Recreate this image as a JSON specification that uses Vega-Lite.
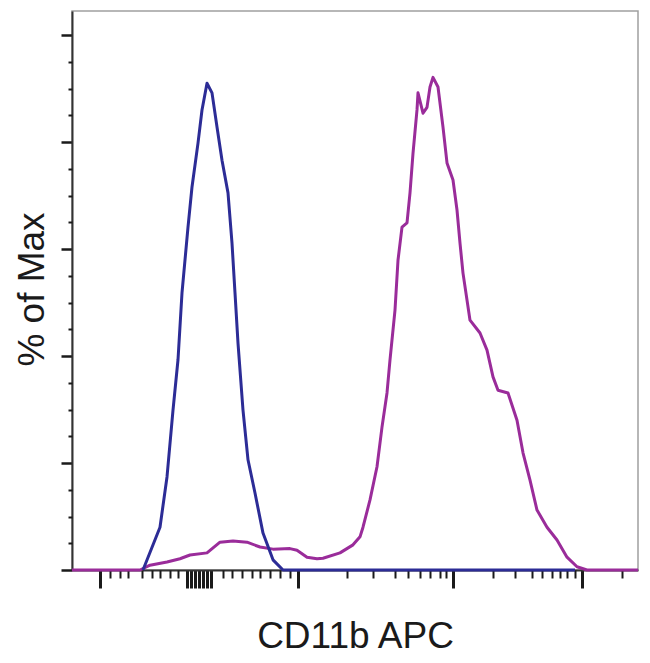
{
  "$schema": "https://vega.github.io/schema/vega-lite/v6.json",
  "width": 566,
  "height": 559,
  "autosize": "none",
  "padding": {"left": 72, "top": 11, "right": 12, "bottom": 93},
  "config": {
    "view": {"stroke": "#a0a0a0", "strokeWidth": 1.5},
    "axis": {
      "labels": false,
      "grid": false,
      "domainColor": "#333333",
      "tickColor": "#1a1a1a",
      "titleFont": "Liberation Sans",
      "titleFontSize": 37,
      "titleFontWeight": "normal",
      "titleColor": "#1a1a1a"
    }
  },
  "datasets": {
    "cd11b": [
      {"ch": 0, "pct": 0}, {"ch": 68, "pct": 0}, {"ch": 78, "pct": 0.9}, {"ch": 95, "pct": 1.5},
      {"ch": 108, "pct": 2.1}, {"ch": 118, "pct": 2.8}, {"ch": 135, "pct": 3.2}, {"ch": 148, "pct": 5.2},
      {"ch": 161, "pct": 5.4}, {"ch": 175, "pct": 5.2}, {"ch": 188, "pct": 4.3}, {"ch": 201, "pct": 3.9},
      {"ch": 218, "pct": 4.0}, {"ch": 225, "pct": 3.7}, {"ch": 235, "pct": 2.4}, {"ch": 245, "pct": 2.1},
      {"ch": 251, "pct": 2.2}, {"ch": 268, "pct": 3.2}, {"ch": 281, "pct": 4.7}, {"ch": 288, "pct": 6.2},
      {"ch": 291, "pct": 8.0}, {"ch": 298, "pct": 13.1}, {"ch": 305, "pct": 19.3}, {"ch": 310, "pct": 26.7},
      {"ch": 315, "pct": 33.1}, {"ch": 318, "pct": 39.3}, {"ch": 323, "pct": 48.6}, {"ch": 326, "pct": 57.9},
      {"ch": 330, "pct": 64.1}, {"ch": 335, "pct": 64.9}, {"ch": 338, "pct": 70.5}, {"ch": 341, "pct": 77.9},
      {"ch": 345, "pct": 86.0}, {"ch": 346, "pct": 89.2}, {"ch": 351, "pct": 85.4}, {"ch": 355, "pct": 86.5},
      {"ch": 358, "pct": 90.3}, {"ch": 361, "pct": 92.1}, {"ch": 366, "pct": 90.3}, {"ch": 371, "pct": 82.8},
      {"ch": 375, "pct": 76.1}, {"ch": 381, "pct": 72.9}, {"ch": 385, "pct": 67.3}, {"ch": 388, "pct": 61.1},
      {"ch": 391, "pct": 55.5}, {"ch": 398, "pct": 46.7}, {"ch": 408, "pct": 44.3}, {"ch": 415, "pct": 41.1},
      {"ch": 421, "pct": 36.1}, {"ch": 426, "pct": 33.6}, {"ch": 436, "pct": 33.1}, {"ch": 445, "pct": 28.0},
      {"ch": 451, "pct": 21.9}, {"ch": 458, "pct": 16.8}, {"ch": 465, "pct": 11.2}, {"ch": 475, "pct": 8.0},
      {"ch": 485, "pct": 5.6}, {"ch": 495, "pct": 2.4}, {"ch": 505, "pct": 0.6}, {"ch": 515, "pct": 0},
      {"ch": 566, "pct": 0}
    ],
    "control": [
      {"ch": 71, "pct": 0}, {"ch": 88, "pct": 8.0}, {"ch": 95, "pct": 17.4}, {"ch": 101, "pct": 29.9},
      {"ch": 106, "pct": 39.3}, {"ch": 110, "pct": 51.8}, {"ch": 116, "pct": 64.1}, {"ch": 120, "pct": 71.6},
      {"ch": 126, "pct": 79.8}, {"ch": 130, "pct": 86.0}, {"ch": 135, "pct": 91.0}, {"ch": 140, "pct": 89.2},
      {"ch": 145, "pct": 82.8}, {"ch": 150, "pct": 76.6}, {"ch": 156, "pct": 70.5}, {"ch": 160, "pct": 61.1},
      {"ch": 163, "pct": 51.8}, {"ch": 166, "pct": 42.4}, {"ch": 171, "pct": 29.9}, {"ch": 176, "pct": 20.6},
      {"ch": 183, "pct": 14.4}, {"ch": 191, "pct": 6.9}, {"ch": 201, "pct": 1.9}, {"ch": 211, "pct": 0},
      {"ch": 503, "pct": 0}
    ]
  },
  "layer": [
    {
      "data": {"name": "cd11b"},
      "mark": {"type": "line", "color": "#9a2c9a", "strokeWidth": 3, "strokeJoin": "round"},
      "encoding": {
        "x": {
          "field": "ch",
          "type": "quantitative",
          "scale": {"domain": [0, 566], "nice": false, "zero": false},
          "axis": {
            "orient": "bottom",
            "title": "CD11b APC",
            "values": [28, 115, 119, 123, 127, 131, 135, 139, 226, 381, 510],
            "tickSize": 18,
            "tickWidth": 3,
            "domainWidth": 2,
            "titleBaseline": "alphabetic",
            "titleX": 283,
            "titleY": 77
          }
        },
        "y": {
          "field": "pct",
          "type": "quantitative",
          "scale": {"domain": [0, 104.5], "nice": false},
          "axis": {
            "orient": "left",
            "title": "% of Max",
            "values": [0, 20, 40, 60, 80, 100],
            "tickSize": 11,
            "tickWidth": 2.5,
            "domainWidth": 2,
            "titleAngle": 270,
            "titleAlign": "center",
            "titleBaseline": "alphabetic",
            "titleX": -29,
            "titleY": 278
          }
        }
      }
    },
    {
      "data": {"name": "control"},
      "mark": {"type": "line", "color": "#2c2c96", "strokeWidth": 3, "strokeJoin": "round"},
      "encoding": {
        "x": {
          "field": "ch",
          "type": "quantitative",
          "scale": {"domain": [0, 566], "nice": false, "zero": false},
          "axis": {
            "orient": "bottom",
            "title": null,
            "domain": false,
            "values": [38, 48, 56, 70, 80, 88, 98, 106, 151, 160, 170, 180, 188, 198, 208, 218, 275, 301, 323, 336, 348, 358, 368, 374, 421, 443, 460, 470, 480, 488, 495, 503, 550],
            "tickSize": 8,
            "tickWidth": 2
          }
        },
        "y": {
          "field": "pct",
          "type": "quantitative",
          "scale": {"domain": [0, 104.5], "nice": false},
          "axis": {
            "orient": "left",
            "title": null,
            "domain": false,
            "values": [5, 10, 15, 25, 30, 35, 45, 50, 55, 65, 70, 75, 85, 90, 95],
            "tickSize": 4,
            "tickWidth": 2
          }
        }
      }
    }
  ],
  "resolve": {"axis": {"x": "independent", "y": "independent"}}
}
